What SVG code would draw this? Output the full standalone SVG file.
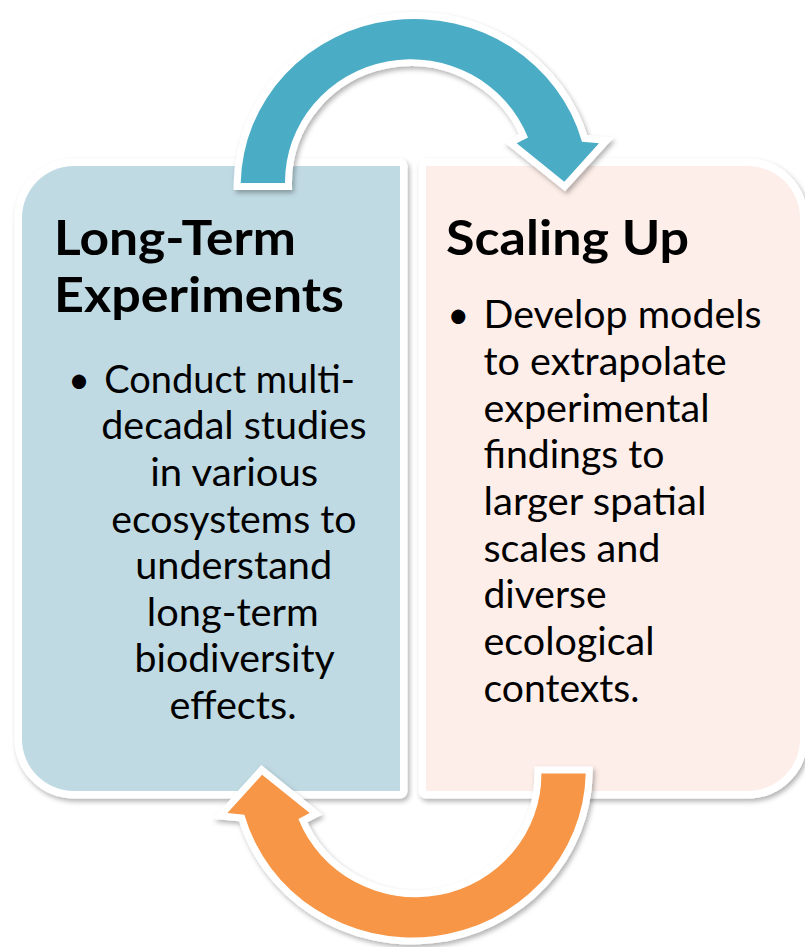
<svg xmlns="http://www.w3.org/2000/svg" width="805" height="947" viewBox="0 0 805 947">
  <defs>
    <filter id="shadow" x="-10%" y="-10%" width="120%" height="120%">
      <feDropShadow dx="2" dy="3" stdDeviation="2.5" flood-color="#000" flood-opacity="0.3"/>
    </filter>
    <!-- curved arrow: tail on the left, head pointing down on the right -->
    <path id="curvedArrow" d="M 240.7 183 A 173.8 167.3 0 0 1 582 141.7 L 599 143.3 L 564.3 181.7 L 516.7 143.3 L 528 137.5 A 125.8 123 0 0 0 285 183 Z"/>
  </defs>
  <style>
    .box { stroke: #ffffff; stroke-width: 15; paint-order: stroke; stroke-linejoin: round; }
    .arrow { stroke: #ffffff; stroke-width: 14; paint-order: stroke; stroke-linejoin: miter; stroke-miterlimit: 4; }
    .title { font-family: Lato, "Liberation Sans", sans-serif; font-weight: bold; font-size: 48px; fill: #000000; }
    .body { font-family: Lato, "Liberation Sans", sans-serif; font-size: 38px; fill: #000000; }
  </style>

  <g id="node-long-term" filter="url(#shadow)">
    <path class="box" fill="#C0DAE3" d="M 74 166 L 400 166 L 400 791 L 74 791 A 52 52 0 0 1 22 739 L 22 218 A 52 52 0 0 1 74 166 Z"/>
  </g>
  <g id="node-scaling-up" filter="url(#shadow)">
    <path class="box" fill="#FDEEE9" d="M 426 166 L 748 166 A 52 52 0 0 1 800 218 L 800 739 A 52 52 0 0 1 748 791 L 426 791 Z"/>
  </g>

  <g id="labels-long-term">
    <text class="title" x="54" y="255" textLength="242" lengthAdjust="spacingAndGlyphs">Long-Term</text>
    <text class="title" x="54" y="312" textLength="290" lengthAdjust="spacingAndGlyphs">Experiments</text>
    <text class="body" x="79" y="392.7" text-anchor="middle">•</text>
    <text class="body" x="104.2" y="392.7" textLength="250.6" lengthAdjust="spacingAndGlyphs">Conduct multi-</text>
    <text class="body" x="101.2" y="439.3" textLength="265.3" lengthAdjust="spacingAndGlyphs">decadal studies</text>
    <text class="body" x="150.2" y="485.9" textLength="168" lengthAdjust="spacingAndGlyphs">in various</text>
    <text class="body" x="111.2" y="532.5" textLength="245.3" lengthAdjust="spacingAndGlyphs">ecosystems to</text>
    <text class="body" x="135.2" y="579.1" textLength="197" lengthAdjust="spacingAndGlyphs">understand</text>
    <text class="body" x="146.8" y="625.7" textLength="172" lengthAdjust="spacingAndGlyphs">long-term</text>
    <text class="body" x="134.5" y="672.3" textLength="200.3" lengthAdjust="spacingAndGlyphs">biodiversity</text>
    <text class="body" x="169.5" y="718.9" textLength="127" lengthAdjust="spacingAndGlyphs">effects.</text>
  </g>

  <g id="labels-scaling-up">
    <text class="title" x="446" y="255" textLength="243" lengthAdjust="spacingAndGlyphs">Scaling Up</text>
    <text class="body" x="458.3" y="328.3" text-anchor="middle">•</text>
    <text class="body" x="483.5" y="328.3" textLength="278" lengthAdjust="spacingAndGlyphs">Develop models</text>
    <text class="body" x="483.5" y="375" textLength="243" lengthAdjust="spacingAndGlyphs">to extrapolate</text>
    <text class="body" x="483.5" y="421.7" textLength="226" lengthAdjust="spacingAndGlyphs">experimental</text>
    <text class="body" x="483.5" y="468.3" textLength="181" lengthAdjust="spacingAndGlyphs">findings to</text>
    <text class="body" x="483.5" y="515" textLength="223" lengthAdjust="spacingAndGlyphs">larger spatial</text>
    <text class="body" x="483.5" y="561.7" textLength="177" lengthAdjust="spacingAndGlyphs">scales and</text>
    <text class="body" x="483.5" y="608.3" textLength="123" lengthAdjust="spacingAndGlyphs">diverse</text>
    <text class="body" x="483.5" y="655" textLength="171" lengthAdjust="spacingAndGlyphs">ecological</text>
    <text class="body" x="483.5" y="701.7" textLength="156" lengthAdjust="spacingAndGlyphs">contexts.</text>
  </g>

  <g id="connectors">
    <g id="arrow-to-scaling-up" filter="url(#shadow)">
      <use href="#curvedArrow" class="arrow" fill="#4BACC6"/>
    </g>
    <g id="arrow-to-long-term" filter="url(#shadow)">
      <use href="#curvedArrow" class="arrow" fill="#F79646" transform="rotate(180 413.2 478.2)"/>
    </g>
  </g>
</svg>
